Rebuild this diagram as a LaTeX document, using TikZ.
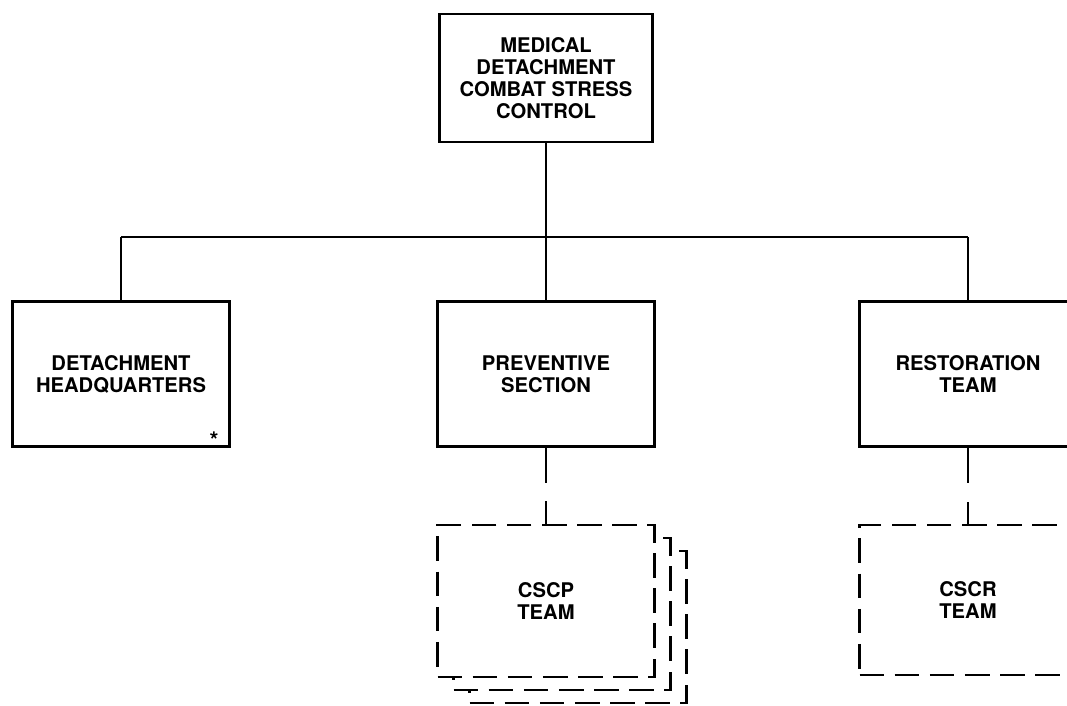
\documentclass[tikz,border=0pt]{standalone}
\usepackage{fontspec}
\setmainfont{TeX Gyre Heros}
\usepackage{tikz}

\begin{document}
\begin{tikzpicture}[x=0.2mm, y=-0.2mm,
    unitbox/.style={draw=black, line width=1.3pt, align=center, inner sep=0pt,
      minimum width=43.4mm, minimum height=29mm,
      font=\bfseries\fontsize{11.5}{12.5}\selectfont},
    teambox/.style={unitbox, dash pattern=on 14pt off 6pt, fill=white, minimum height=30.4mm},
    link/.style={black, line width=1.1pt}]
       \useasboundingbox (0,0) rectangle (1067,705);

       % command
       \node[unitbox, minimum width=42.6mm, minimum height=25.6mm] (cmd) at (546,78) {MEDICAL\\DETACHMENT\\COMBAT STRESS\\CONTROL};

       % sections
       \node[unitbox] (hq) at (121,374) {DETACHMENT\\HEADQUARTERS};
       \node[font=\bfseries\fontsize{13}{14}\selectfont, inner sep=0pt] (star) at (214,440) {*};
       \node[unitbox] (prev) at (546,374) {PREVENTIVE\\SECTION};
       \node[unitbox] (rest) at (968,374) {RESTORATION\\TEAM};

       % teams
       \node[teambox] (cscpback) at (578,627) {};
       \node[teambox] (cscpmid) at (562,614) {};
       \node[teambox] (cscp) at (546,601) {CSCP\\TEAM};
       \node[teambox, minimum height=30mm] (cscr) at (968,600) {CSCR\\TEAM};

       \coordinate (busW) at (121,237);
       \coordinate (busE) at (968,237);
       \draw[link] (busW) -- (busE);
       \draw[link] (cmd.south) -- (prev.north);
       \draw[link] (busW) -- (hq.north);
       \draw[link] (busE) -- (rest.north);

       \coordinate (prevcut) at (546,483);
       \coordinate (cscpcut) at (546,501);
       \draw[link] (prev.south) -- (prevcut);
       \draw[link, dash pattern=on 14pt off 6pt] (cscpcut) -- (cscp.north);

       \coordinate (restcut) at (968,483);
       \coordinate (cscrcut) at (968,502);
       \draw[link] (rest.south) -- (restcut);
       \draw[link, dash pattern=on 14pt off 6pt] (cscrcut) -- (cscr.north);
      \end{tikzpicture}
\end{document}
